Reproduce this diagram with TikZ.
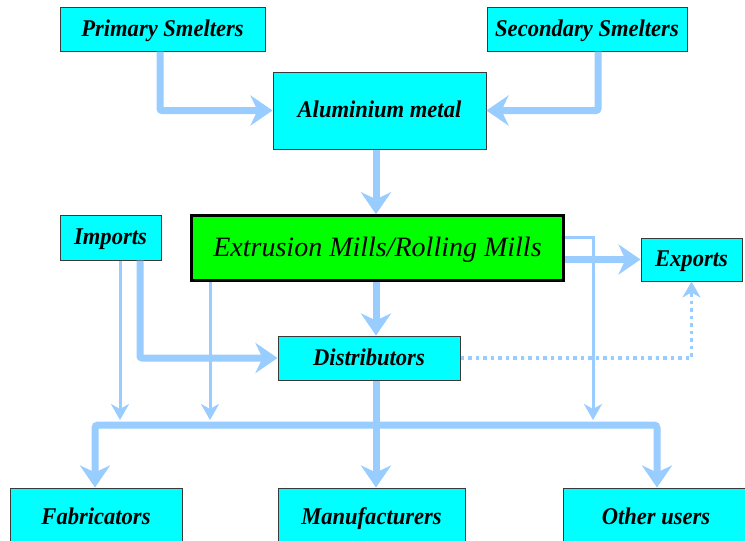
\documentclass[tikz,border=0pt]{standalone}
\usepackage{fontspec}
\setmainfont{Liberation Serif}
\newfontfamily\condserif{Liberation Serif}[FakeStretch=0.94]
\usetikzlibrary{arrows.meta}
\definecolor{boxcyan}{HTML}{00FFFF}
\definecolor{boxgreen}{HTML}{00FF00}
\definecolor{flow}{HTML}{99CCFF}
\definecolor{edge}{HTML}{3A3A3A}
\tikzset{
  box/.style={draw=edge, line width=1pt, fill=boxcyan, inner sep=0pt,
    text height=17pt, text depth=3pt,
    font=\condserif\fontsize{24}{26}\selectfont\bfseries\itshape},
  bigbox/.style={draw=black, line width=2.5pt, fill=boxgreen, inner sep=0pt,
    text height=20pt, text depth=4pt,
    font=\fontsize{28}{30}\selectfont\itshape},
  thickflow/.style={draw=flow, line width=7pt, rounded corners=2pt, -{Stealth[length=22pt,width=30pt,inset=7pt]}},
  thinflow/.style={draw=flow, line width=3pt, -{Stealth[length=16pt,width=18pt,inset=5pt]}},
  dotflow/.style={draw=flow, line width=3.5pt, dash pattern=on 3.5pt off 4pt,
    -{Stealth[length=16pt,width=18pt,inset=5pt]}},
}
\begin{document}
\begin{tikzpicture}[x=1pt,y=-1pt]
\clip (0,0) rectangle (745,541);
\fill[white] (0,0) rectangle (745,541);
% nodes
\node[box, minimum width=205pt, minimum height=44pt] (prim) at (162.5,29) {Primary Smelters};
\node[box, minimum width=200pt, minimum height=44pt] (sec) at (587,29) {Secondary Smelters};
\node[box, minimum width=213pt, minimum height=77pt] (alu) at (379.5,110.5) {Aluminium metal};
\node[bigbox, minimum width=372pt, minimum height=65pt] (ext) at (377.5,248) {Extrusion Mills/Rolling Mills};
\node[box, minimum width=101pt, minimum height=45pt] (imp) at (110.5,237.5) {Imports};
\node[box, minimum width=101pt, minimum height=43pt] (exp) at (691.5,259.5) {Exports};
\node[box, minimum width=182pt, minimum height=44pt] (dist) at (369,358) {Distributors};
\node[box, minimum width=172pt, minimum height=58pt] (fab) at (96,517) {Fabricators};
\node[box, minimum width=187pt, minimum height=58pt] (man) at (371.5,517) {Manufacturers};
\node[box, minimum width=186pt, minimum height=58pt] (oth) at (656,517) {Other users};
\coordinate (bus) at (376,425);
\coordinate (tip) at (376,420);
% top flows
\draw[thickflow] ([xshift=-2.5pt]prim.south) |- (alu.west);
\draw[thickflow] ([xshift=11pt]sec.south) |- (alu.east);
\draw[thickflow] ([xshift=-1.5pt]ext.north |- alu.south) -- ([xshift=-1.5pt]ext.north);
\draw[thickflow] ([xshift=-1.5pt]ext.south) -- ([xshift=-1.5pt]ext.south |- dist.north);
% imports
\draw[thickflow] ([xshift=29.5pt]imp.south) |- (dist.west);
\draw[thinflow] ([xshift=9.5pt]imp.south) -- ([xshift=9.5pt]imp.south |- tip);
% extrusion thin branches
\draw[thinflow] (210,282) -- (210,420);
\draw[thinflow] ([yshift=11pt]ext.east) -- (593,237) -- (593,420);
% exports
\draw[thickflow] (ext.east |- exp.west) -- (exp.west);
\draw[dotflow] (dist.east) -| (exp.south);
% distributors to bus and manufacturers
\draw[thickflow] ([xshift=7pt]dist.south) -- ([xshift=7pt]dist.south |- man.north);
\draw[draw=flow, line width=7pt, rounded corners=3pt,
  {Stealth[length=22pt,width=30pt,inset=7pt]}-{Stealth[length=22pt,width=30pt,inset=7pt]}]
  ([xshift=-1pt]fab.north) |- (bus) -| ([xshift=1pt]oth.north);
\end{tikzpicture}
\end{document}
